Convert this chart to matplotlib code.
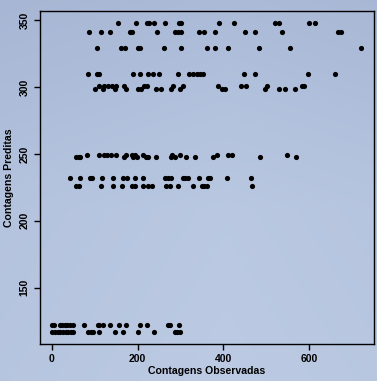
import numpy as np
import matplotlib
matplotlib.use("Agg")
import matplotlib.pyplot as plt

# Predicted counts take only a few levels; observed counts per level
band_levels = [347.5, 341, 329, 310, 301, 298.5, 249.5, 248, 232, 226, 122, 117]

obs_347 = [154, 197, 222, 226, 238, 263, 296, 301, 390, 426, 522, 531, 601, 615]
obs_341 = [87, 115, 136, 182, 187, 246, 287, 294, 302, 343, 354, 380, 451, 473,
           537, 667, 675]
obs_329 = [106, 161, 170, 200, 205, 261, 301, 361, 380, 412, 483, 556, 721]
obs_310 = [85, 105, 110, 189, 205, 224, 236, 250, 294, 320, 330, 338, 346, 352,
           449, 474, 598, 661]
obs_301 = [111, 122, 132, 140, 150, 168, 215, 221, 283, 305, 388, 441, 453, 503,
           583, 589]
obs_298 = [101, 119, 148, 174, 201, 208, 244, 254, 277, 298, 398, 403, 498, 530,
           545, 567]
obs_249 = [83, 111, 122, 128, 139, 149, 173, 186, 194, 213, 281, 298, 385, 412,
           421, 549]
obs_248 = [56, 62, 66, 169, 190, 198, 219, 225, 244, 277, 287, 314, 334, 375,
           486, 570]
obs_232 = [41, 66, 89, 93, 117, 143, 167, 175, 195, 212, 265, 271, 277, 305, 310,
           317, 344, 364, 370, 409, 465]
obs_226 = [56, 63, 114, 142, 163, 186, 194, 213, 225, 233, 267, 275, 294, 329,
           350, 355, 361, 468]
obs_122 = [1, 5, 19, 23, 31, 35, 43, 50, 74, 107, 111, 119, 136, 156, 173, 205,
           223, 270, 275, 296]
obs_117 = [1, 8, 13, 19, 26, 32, 38, 44, 50, 85, 91, 97, 111, 147, 165, 201, 239,
           287, 292, 298]

obs_bands = [obs_347, obs_341, obs_329, obs_310, obs_301, obs_298,
             obs_249, obs_248, obs_232, obs_226, obs_122, obs_117]

x_ticks = [0, 200, 400, 600]
y_ticks = [150, 200, 250, 300, 350]

observed = np.concatenate([np.asarray(b, float) for b in obs_bands])
predicted = np.concatenate([np.full(len(b), lvl) for b, lvl in zip(obs_bands, band_levels)])

plt.rcParams['font.family'] = ['Liberation Sans', 'DejaVu Sans']
plt.rcParams['font.weight'] = 'bold'

fig = plt.figure(figsize=(3.77, 3.81), dpi=100)

# soft bluish backdrop behind everything
bg = fig.add_axes([0, 0, 1, 1], zorder=-10)
yy, xx = np.mgrid[0:1:200j, 0:1:200j]
shade = 0.45 * yy + 0.25 * (1 - np.abs(xx - 0.6)) + 0.3 * (1 - np.abs(yy - 0.55))
lo = np.array([166, 182, 212]) / 255
hi = np.array([188, 202, 227]) / 255
shade = (shade - shade.min()) / (shade.max() - shade.min())
img = lo + (hi - lo) * shade[..., None]
bg.imshow(img, aspect='auto', extent=[0, 1, 0, 1], origin='upper')
bg.axis('off')

ax = fig.add_axes([0.106, 0.097, 0.886, 0.874])
ax.patch.set_alpha(0)
ax.scatter(observed, predicted, s=14, color='black', linewidths=0)

ax.set_xlim(-28, 752)
ax.set_ylim(108, 356.7)
ax.set_xticks(x_ticks, labels=[str(v) for v in x_ticks],
              fontsize=7.5, fontweight='bold')
ax.set_yticks(y_ticks, labels=[str(v) for v in y_ticks],
              fontsize=7.5, fontweight='bold', rotation=90, va='center')
ax.tick_params(direction='out', length=4.5, width=1, pad=3)
for s in ax.spines.values():
    s.set_linewidth(1)

ax.set_xlabel('Contagens Observadas', fontsize=7.6, fontweight='bold', labelpad=1)
ax.set_ylabel('Contagens Preditas', fontsize=7.6, fontweight='bold', labelpad=4)

fig.savefig('out.png', dpi=100)
